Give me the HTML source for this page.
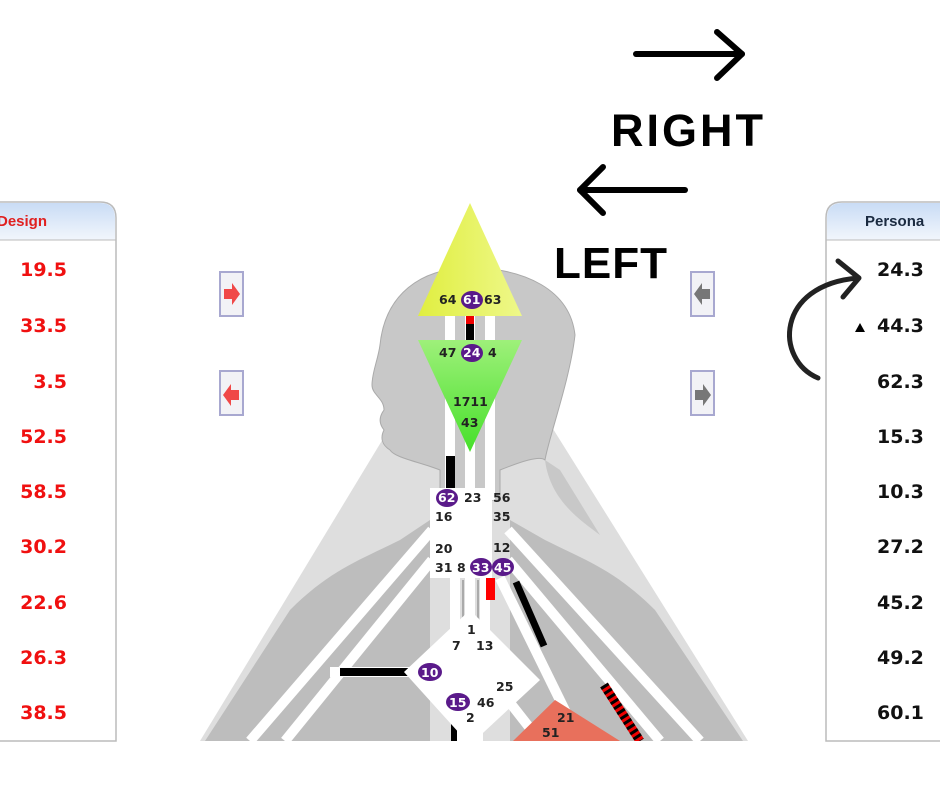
<!DOCTYPE html>
<html><head><meta charset="utf-8"><style>
html,body{margin:0;padding:0;background:#fff;width:940px;height:788px;overflow:hidden}
svg{display:block}
</style></head><body>
<svg width="940" height="788" viewBox="0 0 940 788" xmlns="http://www.w3.org/2000/svg" font-family="Liberation Sans, sans-serif">
<defs>
<linearGradient id="hd" x1="0" y1="0" x2="0" y2="1"><stop offset="0" stop-color="#c9dcf5"/><stop offset="1" stop-color="#f2f6fc"/></linearGradient>
<linearGradient id="yel" x1="0" y1="0" x2="1" y2="0"><stop offset="0" stop-color="#e0ee40"/><stop offset="1" stop-color="#eef88a"/></linearGradient>
<linearGradient id="grn" x1="0" y1="0" x2="0" y2="1"><stop offset="0" stop-color="#9ef07a"/><stop offset="1" stop-color="#46e02a"/></linearGradient>
<clipPath id="cl"><rect x="0" y="0" width="940" height="741"/></clipPath>
</defs>

<g clip-path="url(#cl)">
<polygon points="455,320 485,320 748,741 200,741" fill="#dedede"/>
<path d="M205,741 L290,610 C330,570 360,560 400,540 L430,520 L430,741 Z" fill="#bdbdbd"/>
<path d="M743,741 L655,610 C615,570 585,560 545,540 L510,520 L510,741 Z" fill="#bdbdbd"/>
<!-- head silhouette -->
<path d="M470,268 C420,268 385,295 380,345 C378,360 372,372 372,385 C372,395 384,398 384,410 C378,418 380,425 384,430 C380,438 382,445 390,450 C395,458 420,462 440,470 L440,500 L500,500 L500,470 C520,462 540,455 545,460 C548,440 570,380 575,335 C570,290 525,268 470,268 Z" fill="#c8c8c8" stroke="#aaa" stroke-width="1"/>
<path d="M545,460 C550,500 580,520 600,535 L560,470 Z" fill="#c8c8c8"/>
<g stroke="#fff" stroke-width="10" fill="none">
<line x1="450" y1="316" x2="450" y2="500"/>
<line x1="470" y1="316" x2="470" y2="500"/>
<line x1="490" y1="316" x2="490" y2="500"/>
<line x1="455" y1="575" x2="455" y2="640"/>
<line x1="470" y1="575" x2="470" y2="640"/>
<line x1="485" y1="575" x2="485" y2="640"/>
<line x1="432" y1="530" x2="250" y2="741"/>
<line x1="432" y1="560" x2="285" y2="741"/>
<line x1="508" y1="530" x2="700" y2="741"/>
<line x1="508" y1="560" x2="660" y2="741"/>
<line x1="500" y1="578" x2="580" y2="741"/>
<line x1="330" y1="672" x2="410" y2="672"/>
<line x1="500" y1="690" x2="540" y2="741"/>
<line x1="462" y1="720" x2="462" y2="741"/>
<line x1="478" y1="720" x2="478" y2="741"/>
</g>
<g stroke="#555" stroke-width="1.5" fill="none" opacity=".5">
<line x1="463" y1="580" x2="463" y2="620"/><line x1="478" y1="580" x2="478" y2="620"/>
</g>
<rect x="466" y="316" width="8" height="24" fill="#000"/>
<rect x="466" y="316" width="8" height="8" fill="#e00"/>
<rect x="446" y="456" width="9" height="32" fill="#000"/>
<rect x="486" y="578" width="9" height="22" fill="#f00"/>
<line x1="516" y1="582" x2="544" y2="646" stroke="#000" stroke-width="7"/>
<line x1="340" y1="672" x2="410" y2="672" stroke="#000" stroke-width="8"/>
<line x1="454" y1="720" x2="454" y2="741" stroke="#000" stroke-width="6"/>
<line x1="604" y1="685" x2="640" y2="741" stroke="#e00" stroke-width="9"/>
<line x1="604" y1="685" x2="640" y2="741" stroke="#000" stroke-width="9" stroke-dasharray="3,3"/>
<polygon points="470,203 522,316 418,316" fill="url(#yel)"/>
<polygon points="418,340 522,340 470,452" fill="url(#grn)"/>
<rect x="430" y="488" width="62" height="90" fill="#fff"/>
<polygon points="470,610 540,680 470,745 404,672" fill="#fff"/>
<polygon points="513,741 555,700 620,741" fill="#e8705c"/>
<g font-family="Verdana, DejaVu Sans, sans-serif" font-weight="bold" font-size="12.5" fill="#222">
<text x="439" y="304">64</text><ellipse cx="472" cy="300" rx="11" ry="9" fill="#5a1a8a"/><text x="463" y="304" fill="#fff">61</text><text x="484" y="304">63</text>
<text x="439" y="357">47</text><ellipse cx="472" cy="353" rx="11" ry="9" fill="#5a1a8a"/><text x="463" y="357" fill="#fff">24</text><text x="488" y="357">4</text>
<text x="453" y="406">1711</text><text x="461" y="427">43</text>
<ellipse cx="447" cy="498" rx="11" ry="9" fill="#5a1a8a"/><text x="438" y="502" fill="#fff">62</text><text x="464" y="502">23</text><text x="493" y="502">56</text>
<text x="435" y="521">16</text><text x="493" y="521">35</text>
<text x="435" y="553">20</text><text x="493" y="552">12</text>
<text x="435" y="572">31</text><text x="457" y="572">8</text><ellipse cx="481" cy="567" rx="11" ry="9" fill="#5a1a8a"/><text x="472" y="572" fill="#fff">33</text><ellipse cx="503" cy="567" rx="11" ry="9" fill="#5a1a8a"/><text x="494" y="572" fill="#fff">45</text>
<text x="467" y="634">1</text><text x="452" y="650">7</text><text x="476" y="650">13</text>
<ellipse cx="430" cy="672" rx="12" ry="9" fill="#5a1a8a"/><text x="421" y="677" fill="#fff">10</text>
<text x="496" y="691">25</text>
<ellipse cx="458" cy="702" rx="12" ry="9" fill="#5a1a8a"/><text x="449" y="707" fill="#fff">15</text><text x="477" y="707">46</text><text x="466" y="722">2</text>
<text x="557" y="722">21</text><text x="542" y="737">51</text>
</g>
</g>

<path d="M-5,202 L100,202 Q116,202 116,218 L116,741 L-5,741 Z" fill="#fff" stroke="#bbb" stroke-width="1.5"/>
<path d="M-5,203 L100,203 Q115,203 115,218 L115,240 L-5,240 Z" fill="url(#hd)"/>
<line x1="0" y1="240" x2="116" y2="240" stroke="#bbb"/>
<text x="-3" y="226" font-size="15" font-weight="bold" fill="#e02020">Design</text>
<g font-family="Verdana, DejaVu Sans, sans-serif" font-weight="bold" font-size="19" fill="#f01010" text-anchor="end">
<text x="67" y="276">19.5</text><text x="67" y="332">33.5</text><text x="67" y="388">3.5</text><text x="67" y="443">52.5</text><text x="67" y="498">58.5</text><text x="67" y="553">30.2</text><text x="67" y="609">22.6</text><text x="67" y="664">26.3</text><text x="67" y="719">38.5</text>
</g>

<path d="M945,202 L842,202 Q826,202 826,218 L826,741 L945,741 Z" fill="#fff" stroke="#bbb" stroke-width="1.5"/>
<path d="M945,203 L842,203 Q827,203 827,218 L827,240 L945,240 Z" fill="url(#hd)"/>
<line x1="826" y1="240" x2="940" y2="240" stroke="#bbb"/>
<text x="865" y="226" font-size="15" font-weight="bold" fill="#1a2a40">Persona</text>
<g font-family="Verdana, DejaVu Sans, sans-serif" font-weight="bold" font-size="19" fill="#111">
<text x="877" y="276">24.3</text><text x="877" y="332">44.3</text><text x="877" y="388">62.3</text><text x="877" y="443">15.3</text><text x="877" y="498">10.3</text><text x="877" y="553">27.2</text><text x="877" y="609">45.2</text><text x="877" y="664">49.2</text><text x="877" y="719">60.1</text>
</g>
<polygon points="855,332 865,332 860,323" fill="#000"/>

<g stroke="#a8a8d0" stroke-width="2" fill="#f2f2f6">
<rect x="220" y="272" width="23" height="44"/><rect x="220" y="371" width="23" height="44"/>
<rect x="691" y="272" width="23" height="44"/><rect x="691" y="371" width="23" height="44"/>
</g>
<polygon points="224,289 232,289 232,283 240,294 232,305 232,299 224,299" fill="#f04848"/>
<polygon points="239,390 231,390 231,384 223,395 231,406 231,400 239,400" fill="#f04848"/>
<polygon points="710,289 702,289 702,283 694,294 702,305 702,299 710,299" fill="#777"/>
<polygon points="695,390 703,390 703,384 711,395 703,406 703,400 695,400" fill="#777"/>

<g stroke="#000" stroke-width="6" stroke-linecap="round" stroke-linejoin="round" fill="none">
<line x1="636" y1="54" x2="742" y2="54"/><polyline points="717,32 742,54 717,78"/>
<line x1="580" y1="190" x2="685" y2="190"/><polyline points="603,167 580,190 603,213"/>
</g>
<path d="M818,378 C775,360 775,285 858,278" stroke="#222" stroke-width="5" fill="none" stroke-linecap="round"/>
<polyline points="838,261 859,278 843,297" stroke="#222" stroke-width="5" fill="none" stroke-linecap="round" stroke-linejoin="round"/>
<text x="611" y="146" font-size="45" font-weight="bold" fill="#000" letter-spacing="3">RIGHT</text>
<text x="554" y="278" font-size="44" font-weight="bold" fill="#000" letter-spacing="1">LEFT</text>
</svg>
</body></html>
